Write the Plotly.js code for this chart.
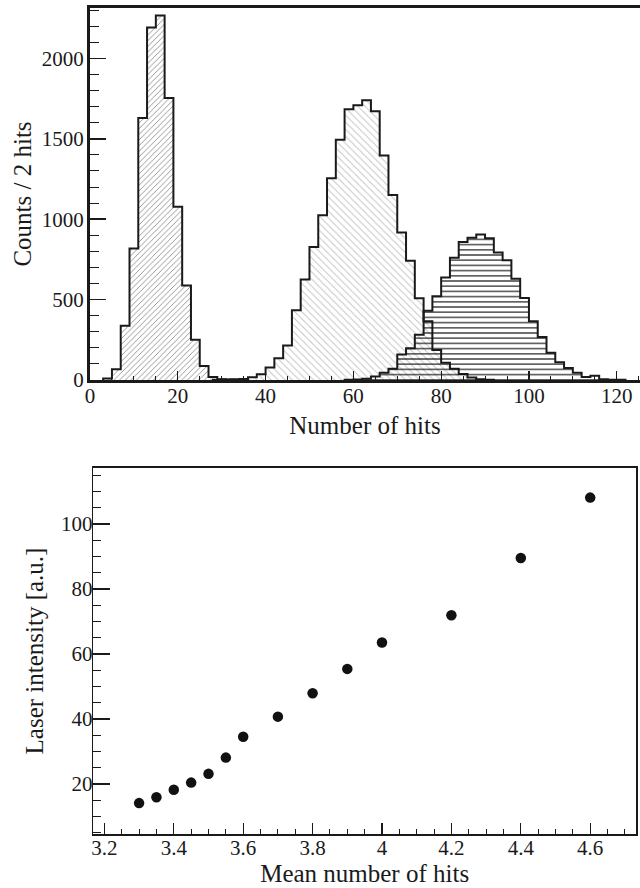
<!DOCTYPE html>
<html>
<head>
<meta charset="utf-8">
<script src="https://cdn.plot.ly/plotly-3.0.1.min.js"></script>
<style>html,body{margin:0;padding:0;background:#fff;}#chart{width:640px;height:888px;}</style>
</head>
<body>
<div id="chart"></div>
<script>
// ---- Top panel: histograms of number of hits (bin width 2 hits) ----
const binWidth = 2;
const s1Start = 3;   // lower edge of first bin
const s1Counts = [10, 67, 337, 817, 1629, 2192, 2267, 1754, 1077, 587, 250, 87, 18, 5, 2];
const s2Start = 28;
const s2Counts = [2, 3, 4, 6, 17, 35, 77, 135, 215, 433, 625, 827, 1025, 1254, 1494, 1683, 1708, 1740,
                  1671, 1396, 1150, 917, 742, 508, 365, 187, 107, 70, 38, 15, 5, 2];
const s3Start = 58;
const s3Counts = [2, 3, 8, 21, 45, 70, 158, 198, 281, 430, 520, 637, 760, 858, 885, 905, 881, 792,
                  744, 629, 510, 365, 268, 170, 110, 75, 45, 19, 26, 5, 2, 1];
const topXTicks = [0, 20, 40, 60, 80, 100, 120];
const topYTicks = [0, 500, 1000, 1500, 2000];

// ---- Bottom panel: laser intensity vs mean number of hits ----
const meanHits = [3.3, 3.35, 3.4, 3.45, 3.5, 3.55, 3.6, 3.7, 3.8, 3.9, 4.0, 4.2, 4.4, 4.6];
const intensity = [14.1, 15.9, 18.2, 20.4, 23.1, 28.1, 34.5, 40.7, 47.9, 55.4, 63.5, 71.9, 89.5, 108.1];
const botXTicks = [3.2, 3.4, 3.6, 3.8, 4, 4.2, 4.4, 4.6];
const botYTicks = [20, 40, 60, 80, 100];

function stepXY(start, counts) {
  const xs = [start], ys = [0];
  counts.forEach((c, i) => { xs.push(start + i * binWidth); ys.push(c); });
  xs.push(start + counts.length * binWidth); ys.push(0);
  return {xs, ys};
}

const FONT = 'Liberation Serif, Times New Roman, serif';
const INK = '#1a1a1a';

function histTrace(start, counts, pattern) {
  const s = stepXY(start, counts);
  return {
    type: 'scatter', mode: 'lines', x: s.xs, y: s.ys,
    xaxis: 'x', yaxis: 'y',
    line: {shape: 'hv', color: INK, width: 2},
    fill: 'tozeroy', fillcolor: 'rgba(0,0,0,0)',
    fillpattern: pattern,
    hoverinfo: 'skip', showlegend: false
  };
}

const traces = [
  histTrace(s1Start, s1Counts, {shape: '/', size: 4, solidity: 0.22, fgcolor: '#8c8c8c', bgcolor: 'rgba(0,0,0,0)'}),
  histTrace(s2Start, s2Counts, {shape: '\\', size: 5, solidity: 0.18, fgcolor: '#c2c2c2', bgcolor: 'rgba(0,0,0,0)'}),
  histTrace(s3Start, s3Counts, {shape: '-', size: 5.2, solidity: 0.22, fgcolor: '#111111', bgcolor: 'rgba(0,0,0,0)'}),
  {
    type: 'scatter', mode: 'markers', x: meanHits, y: intensity,
    xaxis: 'x2', yaxis: 'y2',
    marker: {size: 10.5, color: '#111111'},
    showlegend: false
  }
];

const tickFont = {family: FONT, size: 21, color: INK};
const titleFont = {family: FONT, size: 25, color: INK};

const layout = {
  width: 640, height: 888,
  margin: {l: 0, r: 0, t: 0, b: 0},
  paper_bgcolor: '#fff', plot_bgcolor: '#fff',
  showlegend: false,
  xaxis: {
    domain: [90/640, 1], range: [0, 125.3], anchor: 'y',
    tickvals: topXTicks, ticks: 'inside', ticklen: 9, tickwidth: 1.2, tickcolor: INK,
    minor: {dtick: 5, ticks: 'inside', ticklen: 4, tickwidth: 1, tickcolor: INK, showgrid: false},
    showline: true, linewidth: 3, linecolor: INK, mirror: true,
    showgrid: false, zeroline: false, tickfont: tickFont, ticklabelstandoff: -5,
    title: {text: 'Number of hits', font: titleFont, standoff: 10}
  },
  yaxis: {
    domain: [(888-380)/888, (888-8)/888], range: [0, 2313], anchor: 'x',
    tickvals: topYTicks, ticks: 'inside', ticklen: 16, tickwidth: 1.5, tickcolor: INK,
    minor: {dtick: 100, ticks: 'inside', ticklen: 9, tickwidth: 1, tickcolor: INK, showgrid: false},
    showline: true, linewidth: 3, linecolor: INK, mirror: false,
    showgrid: false, zeroline: false, tickfont: tickFont, ticklabelstandoff: -1,
    title: {text: 'Counts / 2 hits', font: titleFont, standoff: 4}
  },
  xaxis2: {
    domain: [93.3/640, 636/640], range: [3.168, 4.732], anchor: 'y2',
    tickvals: botXTicks, ticktext: botXTicks.map(v => String(v)),
    ticks: 'inside', ticklen: 11, tickwidth: 1.2, tickcolor: INK,
    minor: {dtick: 0.05, ticks: 'inside', ticklen: 5, tickwidth: 1, tickcolor: INK, showgrid: false},
    showline: true, linewidth: 1.5, linecolor: INK, mirror: true,
    showgrid: false, zeroline: false, tickfont: tickFont, ticklabelstandoff: -6,
    title: {text: 'Mean number of hits', font: titleFont, standoff: 4}
  },
  yaxis2: {
    domain: [(888-834.3)/888, (888-467.7)/888], range: [4.5, 117.3], anchor: 'x2',
    tickvals: botYTicks, ticks: 'inside', ticklen: 17, tickwidth: 1.5, tickcolor: INK,
    minor: {dtick: 5, ticks: 'inside', ticklen: 8, tickwidth: 1, tickcolor: INK, showgrid: false},
    showline: true, linewidth: 1.5, linecolor: INK, mirror: true,
    showgrid: false, zeroline: false, tickfont: tickFont, ticklabelstandoff: -5,
    title: {text: 'Laser intensity [a.u.]', font: titleFont, standoff: 10}
  }
};

Plotly.newPlot('chart', traces, layout, {staticPlot: true, displayModeBar: false});
</script>
</body>
</html>
